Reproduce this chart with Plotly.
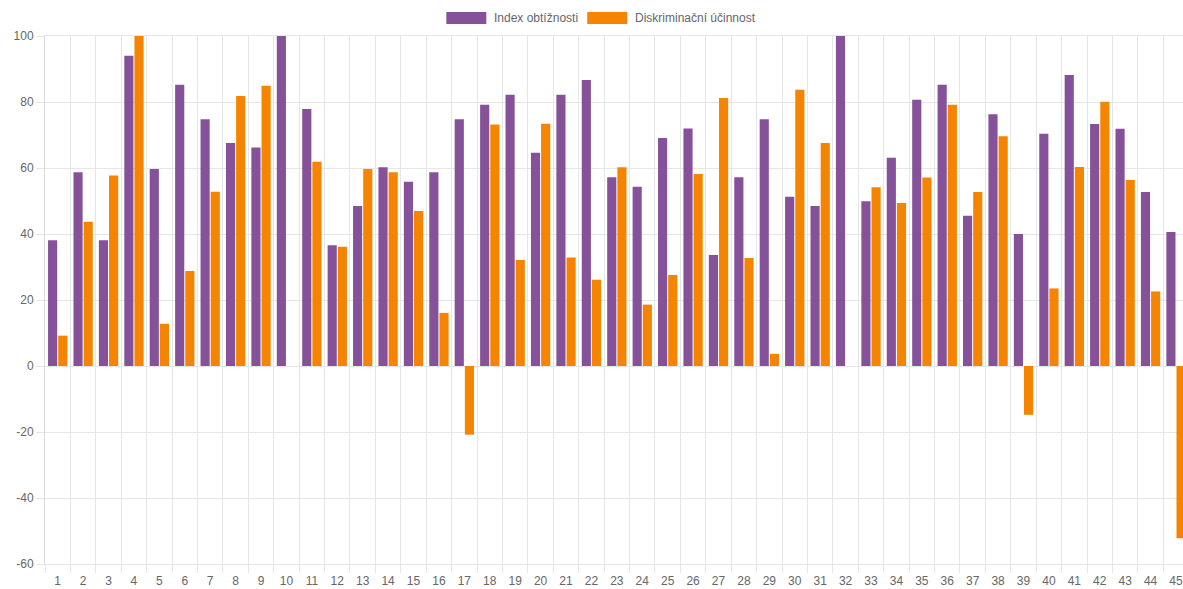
import plotly.graph_objects as go

categories = [str(i) for i in range(1, 46)]
series_names = ["Index obtížnosti", "Diskriminační účinnost"]
index_obtiznosti = [38.1, 58.7, 38.1, 94.0, 59.7, 85.2, 74.8, 67.6, 66.2, 100,
                    77.9, 36.6, 48.5, 60.2, 55.8, 58.7, 74.8, 79.2, 82.2, 64.6,
                    82.2, 86.7, 57.2, 54.3, 69.1, 72.0, 33.6, 57.2, 74.8, 51.3,
                    48.5, 100, 49.9, 63.1, 80.7, 85.2, 45.5, 76.3, 40.0, 70.4,
                    88.2, 73.3, 71.9, 52.7, 40.6]
diskriminacni_ucinnost = [9.2, 43.7, 57.7, 100, 12.8, 28.8, 52.8, 81.8, 84.9, 0,
                          61.9, 36.1, 59.7, 58.7, 47.0, 16.1, -20.8, 73.2, 32.1, 73.4,
                          32.9, 26.1, 60.2, 18.6, 27.6, 58.2, 81.2, 32.7, 3.7, 83.7,
                          67.6, 0, 54.2, 49.4, 57.1, 79.2, 52.7, 69.6, -14.8, 23.5,
                          60.3, 80.1, 56.4, 22.6, -52.2]
y_ticks = [-60, -40, -20, 0, 20, 40, 60, 80, 100]
y_tick_labels = ["-60", "-40", "-20", "0", "20", "40", "60", "80", "100"]

colors = ["#85529A", "#F58400"]
FONT = "Liberation Sans, Arial, sans-serif"
TXT = "#666666"
GRID = "#e6e6e6"

W, H = 1183, 589
ML, MR, MT, MB = 44.5, 0, 36, 25

xpos = list(range(1, len(categories) + 1))

fig = go.Figure()
for name, vals, col in zip(series_names, [index_obtiznosti, diskriminacni_ucinnost], colors):
    fig.add_trace(go.Bar(x=xpos, y=vals, name=name, marker=dict(color=col, line=dict(width=0)),
                         showlegend=False))

# custom Chart.js-style legend
pw = W - ML - MR
ph = H - MT - MB
def px_x(p):
    return (p - ML) / pw
def px_y(p):
    return (H - MB - p) / ph

legend_items = [(446, 486, 492), (587, 627, 633)]
shapes = []
annotations = []
for (x0, x1, tx), name, col in zip(legend_items, series_names, colors):
    shapes.append(dict(type="rect", xref="paper", yref="paper",
                       x0=px_x(x0), x1=px_x(x1), y0=px_y(24), y1=px_y(12),
                       fillcolor=col, line=dict(width=0)))
    annotations.append(dict(xref="paper", yref="paper", x=px_x(tx), y=px_y(18),
                            xanchor="left", yanchor="middle", text=name, showarrow=False,
                            font=dict(family=FONT, size=12, color=TXT)))

n = len(categories)
fig.update_layout(
    width=W, height=H,
    margin=dict(l=ML, r=MR, t=MT, b=MB, pad=0, autoexpand=False),
    paper_bgcolor="white", plot_bgcolor="white",
    barmode="group", bargap=0.2, bargroupgap=0.1,
    shapes=shapes, annotations=annotations,
    showlegend=False,
    xaxis=dict(range=[0.5, n + 0.5 - 5.7 / 25.43], tickvals=xpos, ticktext=categories,
               showgrid=False, zeroline=False, ticks="", automargin=False,
               ticklabelstandoff=6,
               tickfont=dict(family=FONT, size=12, color=TXT),
               showline=True, mirror=True, linecolor=GRID, linewidth=1,
               minor=dict(tickvals=[i + 0.5 for i in range(0, n + 1)], showgrid=True,
                          gridcolor=GRID, gridwidth=1, ticks="outside", ticklen=8,
                          tickcolor=GRID, tickwidth=1)),
    yaxis=dict(range=[-60, 100], tickvals=y_ticks, ticktext=y_tick_labels,
               showgrid=True, gridcolor=GRID, automargin=False,
               zeroline=False, ticks="outside", ticklen=8, tickcolor=GRID,
               tickfont=dict(family=FONT, size=12, color=TXT),
               showline=True, linecolor="#d9d9d9", linewidth=1),
)

fig.write_html("out.html", config={"displayModeBar": False},
               post_script="document.body.style.margin='0px';document.body.style.overflow='hidden';")
